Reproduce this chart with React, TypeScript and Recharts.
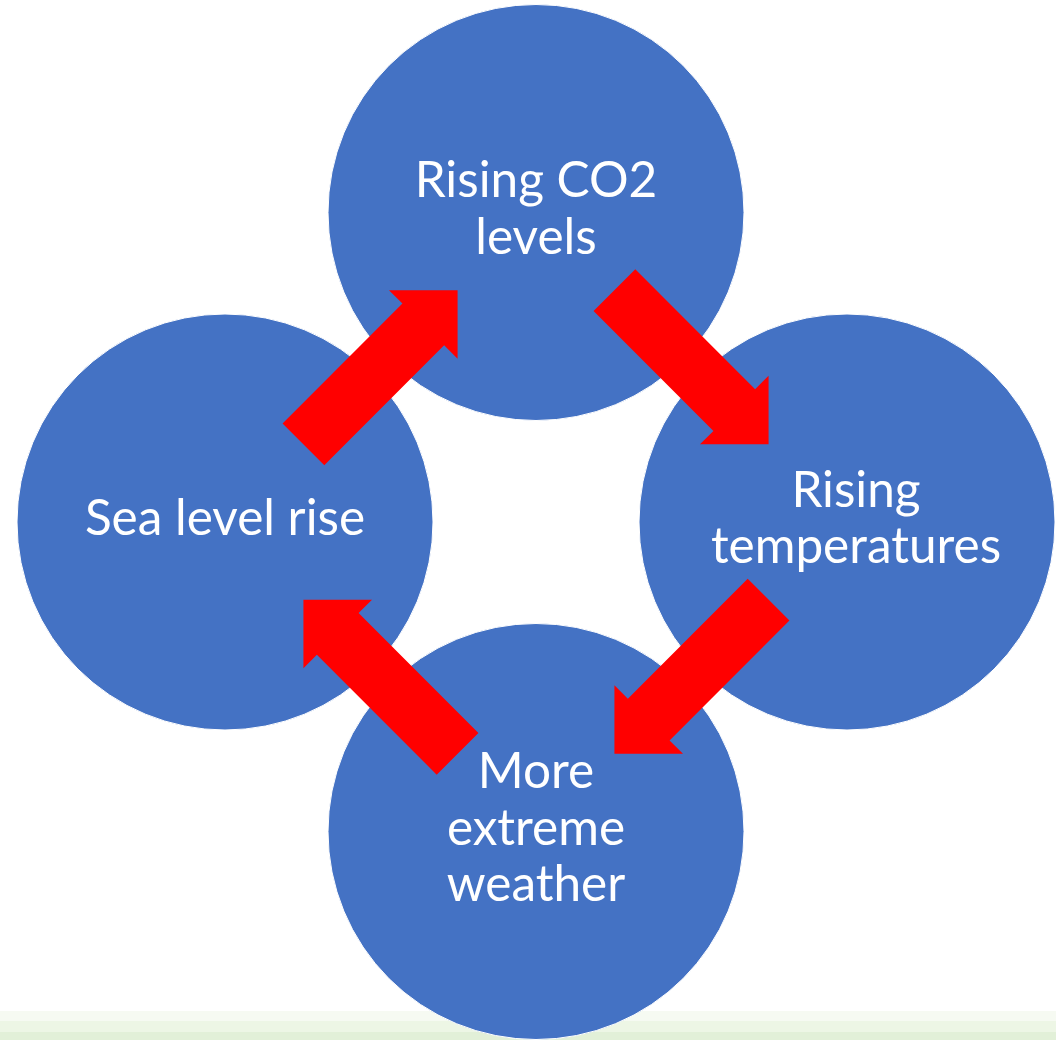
import React from "react";
import { ScatterChart, Scatter, XAxis, YAxis } from "recharts";

// cycle nodes, clockwise from the top
const nodeLabels = [
  ["Rising CO2", "levels"],
  ["Rising", "temperatures"],
  ["More", "extreme", "weather"],
  ["Sea level rise"],
];
const nodeX = [0, 1, 0, -1];
const nodeY = [1, 0, -1, 0];

// every node feeds the next one round the loop
const links = nodeLabels.map((_, i) => [i, (i + 1) % nodeLabels.length]);

const nodes = nodeLabels.map((lines, i) => ({ x: nodeX[i], y: nodeY[i], lines, idx: i }));
const arrows = links.map(([from, to]) => ({
  x: (nodeX[from] + nodeX[to]) / 2,
  y: (nodeY[from] + nodeY[to]) / 2,
  dx: nodeX[to] - nodeX[from],
  dy: nodeY[to] - nodeY[from],
}));

const BLUE = "#4472C4";
const RED = "#FF0000";
const RADIUS = 208;
const FONT = "Lato, 'Open Sans', sans-serif";
const FONT_SIZE = 49.5;
const LINE_GAP = 56.5;
const labelNudge = [0, 9, 0, 0];

const NodeShape = (props: any) => {
  const { cx, cy, payload } = props;
  const lines: string[] = payload.lines;
  const first = cy + 13 - ((lines.length - 1) / 2) * LINE_GAP;
  const tx = cx + labelNudge[payload.idx];
  return (
    <g>
      <circle cx={cx} cy={cy} r={RADIUS} fill={BLUE} stroke="#fff" strokeWidth={1} />
      <text x={tx} y={first} fill="#fff" textAnchor="middle" fontFamily={FONT} fontSize={FONT_SIZE}>
        {lines.map((l, k) => (
          <tspan key={k} x={tx} y={first + k * LINE_GAP}>
            {l}
          </tspan>
        ))}
      </text>
    </g>
  );
};

// block arrow centred on the midpoint between two nodes
const ArrowShape = (props: any) => {
  const { cx, cy, payload } = props;
  const ang = Math.atan2(-payload.dy, payload.dx);
  const half = 109;
  const shaft = 29.5;
  const head = 48.5;
  const neck = half - head;
  const local = [
    [-half, -shaft],
    [neck, -shaft],
    [neck, -head],
    [half, 0],
    [neck, head],
    [neck, shaft],
    [-half, shaft],
  ];
  const c = Math.cos(ang);
  const s = Math.sin(ang);
  const pts = local.map(([u, v]) => `${cx + u * c - v * s},${cy + u * s + v * c}`).join(" ");
  return <polygon points={pts} fill={RED} />;
};

export default function App() {
  return (
    <div
      style={{
        position: "absolute",
        left: 0,
        top: 0,
        width: 1056,
        height: 1040,
        background:
          "linear-gradient(to bottom, #fff 0px, #fff 1011px, #f6faf2 1011px, #f6faf2 1021px, #edf6e5 1021px, #edf6e5 1032px, #e2f0d8 1032px, #e2f0d8 1040px)",
      }}
    >
      <ScatterChart width={1056} height={1040} margin={{ top: 0, right: 0, bottom: 0, left: 0 }}>
        <XAxis type="number" dataKey="x" domain={[-536 / 311, 520 / 311]} allowDataOverflow hide />
        <YAxis type="number" dataKey="y" domain={[-518 / 309.5, 522 / 309.5]} allowDataOverflow hide />
        <Scatter data={nodes} shape={NodeShape} isAnimationActive={false} />
        <Scatter data={arrows} shape={ArrowShape} isAnimationActive={false} />
      </ScatterChart>
    </div>
  );
}
